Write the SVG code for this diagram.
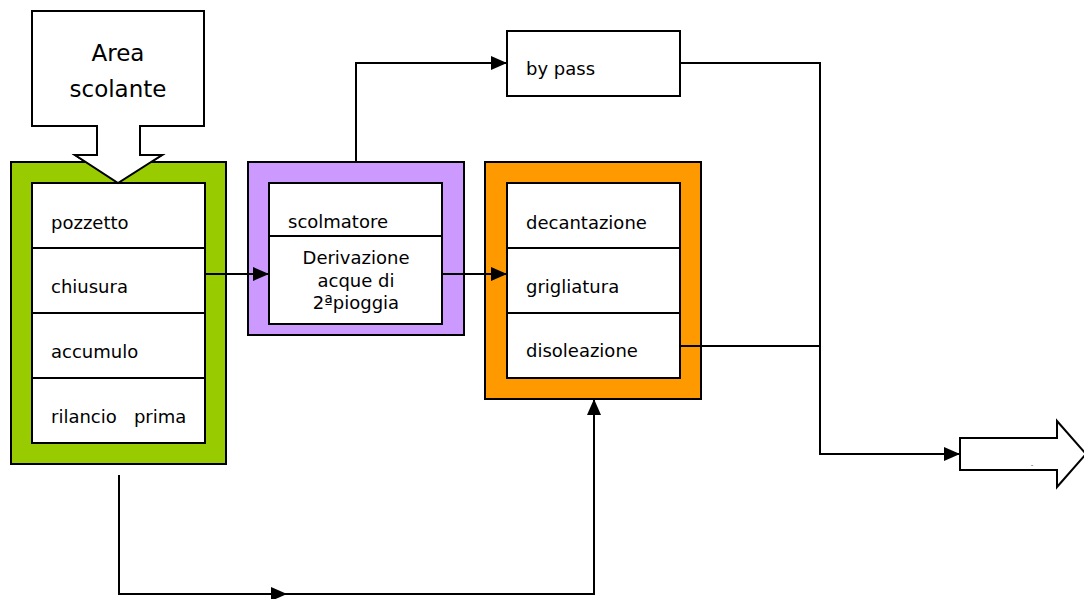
<svg xmlns="http://www.w3.org/2000/svg" width="1084" height="599" viewBox="0 0 1084 599">
<style>
.box{stroke:#000;stroke-width:2}
.w{fill:#fff;stroke:#000;stroke-width:2}
.t{font-family:"DejaVu Sans",Verdana,sans-serif;font-size:18px;fill:#000}
.c{fill:none;stroke:#000;stroke-width:2}
</style>
<defs>
<marker id="ah" markerWidth="16" markerHeight="14" refX="16" refY="7" orient="auto" markerUnits="userSpaceOnUse">
<path d="M0,0 L16,7 L0,14 Z" fill="#000"/>
</marker>
</defs>
<g id="area-scolante">
<path class="w" d="M32,11 H204 V126 H140 V155 H162 L118,183 L75,155 H97 V126 H32 Z"/>
<text class="t" x="118" y="61" text-anchor="middle" style="font-size:23px">Area</text>
<text class="t" x="118" y="97" text-anchor="middle" style="font-size:23px">scolante</text>
</g>
<g id="green-block">
<rect class="box" x="11" y="162" width="215" height="302" fill="#99CC00"/>
<rect class="w" x="32" y="183" width="173" height="260"/>
<line x1="32" y1="248" x2="205" y2="248" stroke="#000" stroke-width="2"/>
<line x1="32" y1="313" x2="205" y2="313" stroke="#000" stroke-width="2"/>
<line x1="32" y1="378" x2="205" y2="378" stroke="#000" stroke-width="2"/>
<text class="t" x="51" y="229">pozzetto</text>
<text class="t" x="51" y="293">chiusura</text>
<text class="t" x="51" y="358">accumulo</text>
<text class="t" x="51" y="423" xml:space="preserve">rilancio   prima</text>
</g>
<g id="area-arrow-tip">
<path class="w" d="M97,150 V155 H75 L118,183 L162,155 H140 V150"/>
<rect x="98" y="150" width="41" height="7" fill="#fff"/>
</g>
<g id="purple-block">
<rect class="box" x="248" y="162" width="216" height="173" fill="#CC99FF"/>
<rect class="w" x="269" y="183" width="173" height="141"/>
<line x1="269" y1="236" x2="442" y2="236" stroke="#000" stroke-width="2"/>
<text class="t" x="288" y="228">scolmatore</text>
<text class="t" x="356" y="264" text-anchor="middle">Derivazione</text>
<text class="t" x="356" y="287" text-anchor="middle">acque di</text>
<text class="t" x="356" y="309" text-anchor="middle">2ªpioggia</text>
</g>
<g id="orange-block">
<rect class="box" x="485" y="162" width="216" height="237" fill="#FF9900"/>
<rect class="w" x="507" y="183" width="173" height="195"/>
<line x1="507" y1="248" x2="680" y2="248" stroke="#000" stroke-width="2"/>
<line x1="507" y1="313" x2="680" y2="313" stroke="#000" stroke-width="2"/>
<text class="t" x="526" y="229">decantazione</text>
<text class="t" x="526" y="293">grigliatura</text>
<text class="t" x="526" y="357">disoleazione</text>
</g>
<g id="bypass">
<rect class="w" x="507" y="31" width="173" height="65"/>
<text class="t" x="526" y="75">by pass</text>
</g>
<g id="outlet">
<path class="w" d="M960,438 H1057 V421 L1086,454 L1057,487 V470 H960 Z"/>
<text class="t" x="1031" y="467" style="font-size:6px">-</text>
</g>
<g id="connectors">
<line class="c" x1="205" y1="274" x2="269" y2="274" marker-end="url(#ah)"/>
<line class="c" x1="442" y1="274" x2="507" y2="274" marker-end="url(#ah)"/>
<polyline class="c" points="356,162 356,63 507,63" marker-end="url(#ah)"/>
<polyline class="c" points="680,63 820,63 820,454 960,454" marker-end="url(#ah)"/>
<line class="c" x1="680" y1="346" x2="820" y2="346"/>
<polyline class="c" points="119,475 119,594 287,594" marker-end="url(#ah)"/>
<polyline class="c" points="286,594 594,594 594,399" marker-end="url(#ah)"/>
</g>
</svg>
